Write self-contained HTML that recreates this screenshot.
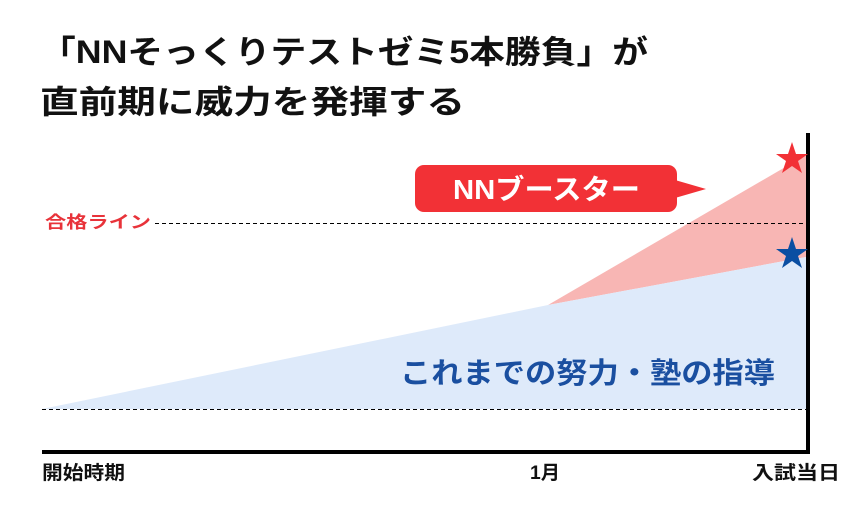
<!DOCTYPE html>
<html><head><meta charset="utf-8"><style>
body{margin:0;background:#fff;}
svg text{font-family:"Liberation Sans","Noto Sans CJK JP",sans-serif;}
</style></head><body>
<svg width="850" height="520" viewBox="0 0 850 520" xmlns="http://www.w3.org/2000/svg">
<text x="40" y="63" font-size="32" font-weight="bold" fill="#111" textLength="608" lengthAdjust="spacingAndGlyphs">「NNそっくりテストゼミ5本勝負」が</text>
<text x="40" y="113" font-size="32" font-weight="bold" fill="#111" textLength="425" lengthAdjust="spacingAndGlyphs">直前期に威力を発揮する</text>
<polygon points="548,305 806,155 806,257" fill="#f8b6b4"/>
<polygon points="42,409 548,305 806,257 806,409" fill="#deeafa"/>
<line x1="155" y1="223.5" x2="806" y2="223.5" stroke="#000" stroke-width="1" stroke-dasharray="4,3"/>
<line x1="42" y1="409.5" x2="806" y2="409.5" stroke="#000" stroke-width="1" stroke-dasharray="4,3"/>
<polyline points="42,452 808,452 808,133" fill="none" stroke="#000" stroke-width="4"/>
<text x="45" y="228" font-size="17" font-weight="bold" fill="#e8333a" textLength="106" lengthAdjust="spacingAndGlyphs">合格ライン</text>
<rect x="415" y="165" width="262" height="47" rx="9" fill="#f23136"/>
<polygon points="675,180 706,189 675,198" fill="#f23136"/>
<text x="453" y="199" font-size="28" font-weight="bold" fill="#fff" textLength="187" lengthAdjust="spacingAndGlyphs">NNブースター</text>
<text x="400" y="383" font-size="29" font-weight="bold" fill="#1a4fa0" textLength="375" lengthAdjust="spacingAndGlyphs">これまでの努力・塾の指導</text>
<polygon points="792,142 796,154 808,154 798,161 802,173 792,166 782,173 786,161 776,154 788,154" fill="#f23136"/>
<polygon points="792,237 796,249 808,249 798,256 802,268 792,261 782,268 786,256 776,249 788,249" fill="#0a4ea2"/>
<text x="42" y="479" font-size="19" font-weight="bold" fill="#111" textLength="83" lengthAdjust="spacingAndGlyphs">開始時期</text>
<text x="530" y="479" font-size="19" font-weight="bold" fill="#111" textLength="30" lengthAdjust="spacingAndGlyphs">1月</text>
<text x="752" y="479" font-size="19" font-weight="bold" fill="#111" textLength="88" lengthAdjust="spacingAndGlyphs">入試当日</text>
</svg>
</body></html>
